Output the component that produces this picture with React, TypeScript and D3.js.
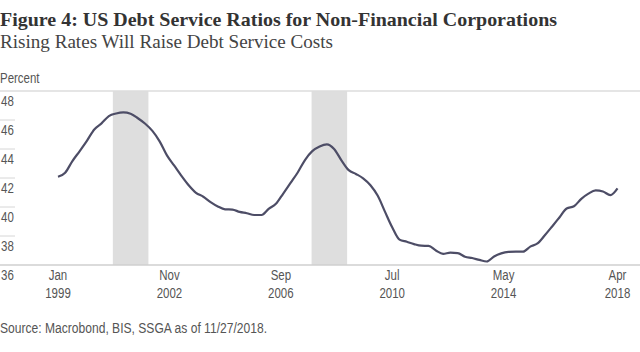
import React from 'react';
import * as d3 from 'd3';

// quarterly debt service ratio, 1999Q1 .. 2018Q2 (percent)
const startQuarter = new Date(1999, 0, 1);
const dsrValues = [
  42.09, 42.37, 43.17, 43.86, 44.58, 45.35, 45.77, 46.27, 46.45, 46.52,
  46.43, 46.12, 45.74, 45.25, 44.53, 43.56, 42.85, 42.15, 41.5, 40.98,
  40.71, 40.34, 40.04, 39.84, 39.82, 39.66, 39.57, 39.45, 39.45, 39.87,
  40.22, 40.93, 41.66, 42.38, 43.24, 43.85, 44.17, 44.32, 44.0, 43.22,
  42.54, 42.28, 41.98, 41.5, 40.77, 39.68, 38.6, 37.75, 37.6, 37.44,
  37.33, 37.32, 37.0, 36.77, 36.85, 36.82, 36.57, 36.48, 36.35, 36.24,
  36.59, 36.8, 36.9, 36.92, 36.92, 37.27, 37.49, 38.05, 38.66, 39.28,
  39.9, 40.05, 40.56, 40.92, 41.14, 41.07, 40.82, 41.29,
];

const recessions = [
  [new Date(2000, 10, 20), new Date(2002, 1, 10)],
  [new Date(2007, 8, 22), new Date(2008, 11, 12)],
];

const xTicks = [
  new Date(1999, 0, 1),
  new Date(2002, 10, 1),
  new Date(2006, 8, 1),
  new Date(2010, 6, 1),
  new Date(2014, 4, 1),
  new Date(2018, 3, 1),
];
const yTicks = [36, 38, 40, 42, 44, 46, 48];

const title = 'Figure 4: US Debt Service Ratios for Non-Financial Corporations';
const subtitle = 'Rising Rates Will Raise Debt Service Costs';
const source = 'Source: Macrobond, BIS, SSGA as of 11/27/2018.';

const W = 640;
const H = 352;
const plotTop = 91;
const plotBottom = 265;
const sansFont = '"Liberation Sans", Arial, sans-serif';
const serifFont = '"Liberation Serif", "DejaVu Serif", serif';
const narrow = 0.82; // squeeze the sans to look like a condensed face

// condensed-looking label
const Label = ({ x, y, anchor = 'start', size = 14, children }: any) => (
  <text
    transform={`translate(${x},${y}) scale(${narrow},1)`}
    textAnchor={anchor}
    fontFamily={sansFont}
    fontSize={size}
    fill="#555"
  >
    {children}
  </text>
);

export default function App() {
  const data = dsrValues.map((v, i) => ({
    date: d3.timeMonth.offset(startQuarter, i * 3),
    value: v,
  }));

  const x = d3.scaleTime()
    .domain([new Date(1999, 0, 1), new Date(2018, 3, 1)])
    .range([58, 617.5]);

  const y = d3.scaleLinear()
    .domain([36, 48])
    .range([plotBottom, plotTop]);

  const line = d3.line<{ date: Date; value: number }>()
    .x(d => x(d.date))
    .y(d => y(d.value))
    .curve(d3.curveMonotoneX);

  const fmtMonth = d3.timeFormat('%b');
  const fmtYear = d3.timeFormat('%Y');

  return (
    <svg width={W} height={H} style={{ position: 'absolute', left: 0, top: 0, background: '#fff' }}>
      <text x={0} y={26} fontFamily={serifFont} fontWeight="bold" fontSize={19} fill="#333"
        textLength={557} lengthAdjust="spacingAndGlyphs">
        {title}
      </text>
      <text x={0} y={47.5} fontFamily={serifFont} fontSize={19.5} fill="#444"
        textLength={333} lengthAdjust="spacingAndGlyphs">
        {subtitle}
      </text>
      <Label x={0} y={83} size={14}>Percent</Label>

      {/* recession bands */}
      {recessions.map(([a, b], i) => (
        <rect key={i} x={x(a)} y={plotTop} width={x(b) - x(a)} height={plotBottom - plotTop} fill="#dedede" />
      ))}

      {/* top line and axis */}
      <line x1={0} x2={W} y1={y(48)} y2={y(48)} stroke="#dcdcdc" strokeWidth={1.5} />
      <line x1={0} x2={W} y1={y(36)} y2={y(36)} stroke="#cfcfcf" strokeWidth={1.5} />

      {/* y labels with short ticks */}
      {yTicks.map(t => (
        <g key={t}>
          {t !== 48 && t !== 36 && (
            <line x1={0} x2={15} y1={y(t)} y2={y(t)} stroke="#d6d6d6" strokeWidth={1} />
          )}
          <Label x={1} y={y(t) + 15}>{t}</Label>
        </g>
      ))}

      {/* x labels */}
      {xTicks.map((t, i) => (
        <g key={i}>
          <Label x={x(t)} y={280} anchor="middle">{fmtMonth(t)}</Label>
          <Label x={x(t)} y={298} anchor="middle">{fmtYear(t)}</Label>
        </g>
      ))}

      <path d={line(data) || ''} fill="none" stroke="#4d4d66" strokeWidth={2.2} strokeLinejoin="round" />

      <text x={0} y={333} fontFamily={sansFont} fontSize={14} fill="#555"
        textLength={267} lengthAdjust="spacingAndGlyphs">
        {source}
      </text>
    </svg>
  );
}
